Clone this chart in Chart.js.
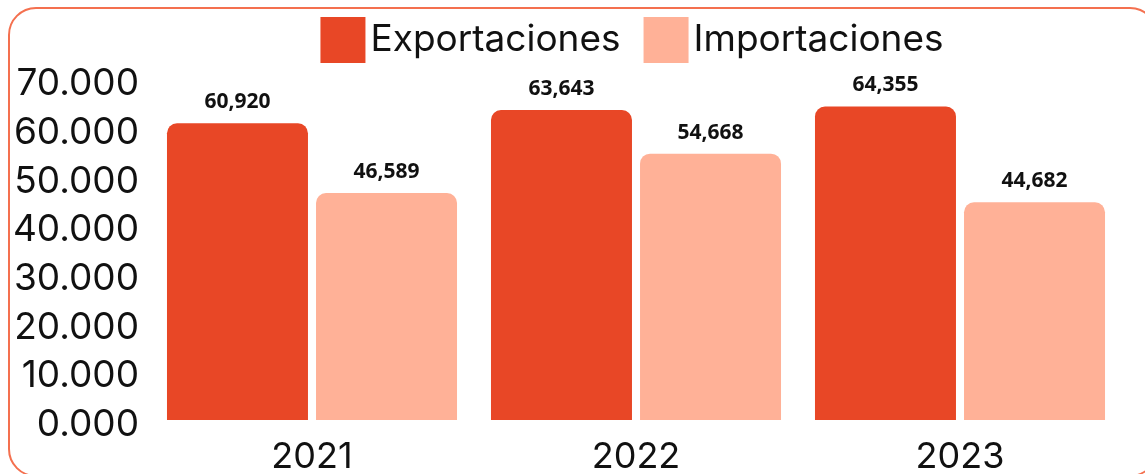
<!DOCTYPE html>
<html lang="es">
<head>
  <meta charset="UTF-8">
  <title>Exportaciones e Importaciones</title>
  <script src="https://cdn.jsdelivr.net/npm/chart.js@4"></script>
  <style>
    html, body {
      margin: 0;
      padding: 0;
      background: #fff;
      overflow: hidden;
    }
    .frame {
      position: absolute;
      left: 8px;
      top: 7px;
      width: 1150px;
      height: 470px;
      border: 2px solid #f4704f;
      border-radius: 28px;
      box-sizing: border-box;
    }
    .chart-box {
      position: absolute;
      left: 0;
      top: 0;
      width: 1145px;
      height: 474px;
    }
  </style>
</head>
<body>
<div class="frame"></div>
<div class="chart-box"><canvas id="chart"></canvas></div>

<script>
  const years = ['2021', '2022', '2023'];
  const exportaciones = [60920, 63643, 64355];
  const importaciones = [46589, 54668, 44682];
  const seriesNames = ['Exportaciones', 'Importaciones'];
  const colors = ['#e84726', '#ffb197'];

  const labelFmt = v => v.toLocaleString('en-US');

  // etiquetas encima de las barras
  const barLabels = {
    id: 'barLabels',
    afterDatasetsDraw(chart) {
      const ctx = chart.ctx;
      ctx.save();
      ctx.font = 'bold 21px "Noto Sans"';
      ctx.fillStyle = '#111';
      ctx.textAlign = 'center';
      ctx.textBaseline = 'middle';
      chart.data.datasets.forEach((ds, i) => {
        chart.getDatasetMeta(i).data.forEach((bar, j) => {
          ctx.fillText(labelFmt(ds.data[j]), bar.x, bar.y - 21);
        });
      });
      ctx.restore();
    }
  };

  // leyenda propia, centrada sobre el area del grafico
  const topLegend = {
    id: 'topLegend',
    afterDraw(chart) {
      const ctx = chart.ctx;
      const box = 45, gap = 5, itemGap = 23;
      ctx.save();
      ctx.font = '37px Inter';
      ctx.textBaseline = 'middle';
      ctx.textAlign = 'left';
      const items = chart.data.datasets.map(ds => ({
        text: ds.label,
        color: ds.backgroundColor,
        w: ctx.measureText(ds.label).width
      }));
      let total = 0;
      items.forEach((it, i) => { total += box + gap + it.w + (i ? itemGap : 0); });
      const area = chart.chartArea;
      let x = (area.left + area.right) / 2 - total / 2 - 4;
      const top = 17;
      items.forEach(it => {
        ctx.fillStyle = it.color;
        ctx.fillRect(x, top, box, 46);
        ctx.fillStyle = '#111';
        ctx.fillText(it.text, x + box + gap, top + 23);
        x += box + gap + it.w + itemGap;
      });
      ctx.restore();
    }
  };

  new Chart(document.getElementById('chart'), {
    type: 'bar',
    data: {
      labels: years,
      datasets: [
        {
          label: seriesNames[0],
          data: exportaciones,
          backgroundColor: colors[0],
          borderRadius: { topLeft: 10, topRight: 10 },
          borderSkipped: 'bottom',
          barPercentage: 0.946,
          categoryPercentage: 0.92
        },
        {
          label: seriesNames[1],
          data: importaciones,
          backgroundColor: colors[1],
          borderRadius: { topLeft: 10, topRight: 10 },
          borderSkipped: 'bottom',
          barPercentage: 0.946,
          categoryPercentage: 0.92
        }
      ]
    },
    options: {
      responsive: true,
      maintainAspectRatio: false,
      animation: false,
      layout: { padding: { top: 79, right: 23, left: 0, bottom: 0 } },
      plugins: {
        tooltip: { enabled: false },
        legend: { display: false }
      },
      scales: {
        x: {
          grid: { display: false },
          border: { display: false },
          ticks: {
            color: '#111',
            padding: 8,
            font: { family: 'Inter', size: 36 }
          },
          afterFit(scale) { scale.height = 54; }
        },
        y: {
          min: 0,
          max: 70000,
          grid: { display: false },
          border: { display: false },
          ticks: {
            stepSize: 10000,
            color: '#111',
            padding: 3,
            labelOffset: 5,
            font: { family: 'Inter', size: 37 },
            callback: v => (v / 1000).toFixed(3)
          },
          afterFit(scale) { scale.width = 150; }
        }
      }
    },
    plugins: [barLabels, topLegend]
  });
</script>
</body>
</html>
